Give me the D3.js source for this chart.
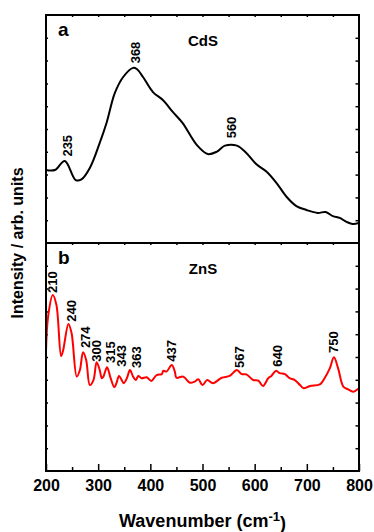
<!DOCTYPE html>
<html>
<head>
<meta charset="utf-8">
<script src="https://cdn.jsdelivr.net/npm/d3@7"></script>
<style>
  body { margin: 0; background: #fff; }
  text { font-family: "Liberation Sans", Arial, sans-serif; font-weight: bold; fill: #000; }
</style>
</head>
<body>
<script>
// CdS spectrum (panel a)
const cdsX = [200, 217, 236, 257, 268, 284, 303, 316, 332, 348, 367, 374, 386, 405, 424, 443, 462, 489, 510, 527,
    543, 566, 584, 604, 623, 642, 661, 680, 699, 721, 736, 750, 763, 776, 788, 800]
const cdsY = [3.20, 3.20, 3.60, 2.76, 2.79, 3.29, 4.39, 5.26, 6.58, 7.28, 7.68, 7.63, 7.28, 6.62, 6.27, 5.75, 5.26, 4.30, 3.90, 4.00,
    4.27, 4.27, 3.95, 3.44, 3.13, 2.63, 2.03, 1.62, 1.45, 1.32, 1.36, 1.18, 1.10, 0.93, 0.83, 0.88]

// ZnS spectrum (panel b)
const znsX = [200, 204, 213, 220, 229, 233, 243, 249, 259, 265, 271, 277, 284, 291, 297, 303, 307, 310, 317, 323,
    331, 335, 340, 345, 349, 355, 361, 367, 372, 377, 383, 393, 402, 412, 422, 425, 431, 441, 447, 450,
    463, 476, 485, 492, 500, 509, 520, 537, 552, 566, 575, 584, 597, 607, 616, 626, 632, 641, 648, 658,
    667, 677, 687, 694, 706, 725, 734, 744, 752, 760, 770, 779, 789, 800]
const znsY = [5.23, 6.77, 7.72, 7.28, 5.04, 5.31, 6.45, 6.05, 4.14, 4.43, 5.21, 4.87, 3.77, 3.99, 4.77, 4.43, 4.07, 4.14, 4.55, 4.14,
    3.67, 3.85, 4.17, 3.99, 3.85, 4.07, 4.43, 4.14, 3.99, 4.17, 4.07, 4.11, 3.95, 4.21, 4.25, 4.40, 4.36, 4.65, 4.36, 4.09,
    4.14, 3.87, 3.92, 4.02, 3.77, 3.99, 3.85, 4.09, 4.17, 4.43, 4.25, 4.24, 3.99, 3.96, 3.73, 4.07, 4.17, 4.40, 4.29, 4.25,
    4.07, 3.99, 3.77, 3.63, 3.73, 3.80, 4.07, 4.50, 4.99, 4.50, 3.70, 3.58, 3.48, 3.63]

// Peak labels: text, label x (wavenumber), label foot (intensity)
const cdsPeaks = ["235", "368", "560"]
const cdsPeakX = [240, 372, 556]
const cdsPeakY = [3.79, 7.88, 4.59]

const znsPeaks = ["210", "240", "274", "300", "315", "343", "363", "437", "567", "640", "750"]
const znsPeakX = [212, 249, 275, 297, 324, 345, 374, 441, 570, 643, 750]
const znsPeakY = [7.81, 6.55, 5.39, 4.79, 4.74, 4.57, 4.52, 4.79, 4.52, 4.57, 5.18]

const majorTicks = [200, 300, 400, 500, 600, 700, 800]
const minorTicks = [250, 350, 450, 550, 650, 750]
const edgeTicks = [250, 300, 350, 400, 450, 500, 550, 600, 650, 700, 750]
const yTicks = [1, 2, 3, 4, 5, 6, 7, 8, 9]

const size = { width: 374, height: 532 }
const frame = { left: 46, right: 359, top: 15, mid: 243, bottom: 471 }

const svg = d3.select("body").append("svg")
    .attr("width", size.width)
    .attr("height", size.height)

const x = d3.scaleLinear().domain([200, 800]).range([frame.left, frame.right])

const panels = [
    { name: "CdS", tag: "a", xs: cdsX, ys: cdsY, color: "#000", top: frame.top, bottom: frame.mid,
      peaks: cdsPeaks, px: cdsPeakX, py: cdsPeakY },
    { name: "ZnS", tag: "b", xs: znsX, ys: znsY, color: "#ff0000", top: frame.mid, bottom: frame.bottom,
      peaks: znsPeaks, px: znsPeakX, py: znsPeakY }
]

panels.forEach(function (p, k) {
    const y = d3.scaleLinear().domain([0, 10]).range([p.bottom, p.top])

    // inner ticks on left, right and top
    svg.append("g")
        .attr("transform", "translate(" + frame.left + ",0)")
        .call(d3.axisLeft(y).tickValues(yTicks).tickSize(-2).tickFormat(""))
    svg.append("g")
        .attr("transform", "translate(" + frame.right + ",0)")
        .call(d3.axisRight(y).tickValues(yTicks).tickSize(-3.5).tickFormat(""))
    svg.append("g")
        .attr("transform", "translate(0," + p.top + ")")
        .call(d3.axisTop(x).tickValues(edgeTicks).tickSize(-2).tickFormat(""))

    const clipId = "clip" + k
    svg.append("clipPath").attr("id", clipId)
        .append("rect")
        .attr("x", frame.left).attr("y", p.top)
        .attr("width", frame.right - frame.left).attr("height", p.bottom - p.top)

    const line = d3.line()
        .x((d, i) => x(p.xs[i]))
        .y(d => y(d))
        .curve(d3.curveCatmullRom.alpha(0.5))

    svg.append("path")
        .datum(p.ys)
        .attr("clip-path", "url(#" + clipId + ")")
        .attr("fill", "none")
        .attr("stroke", p.color)
        .attr("stroke-width", 2)
        .attr("stroke-linejoin", "round")
        .attr("d", line)

    // peak labels, rotated
    svg.selectAll(".peak" + k)
        .data(p.peaks)
        .enter()
        .append("text")
        .attr("class", "peak" + k)
        .attr("transform", (d, i) => "translate(" + x(p.px[i]) + "," + y(p.py[i]) + ")rotate(-90)")
        .attr("dy", "0.36em")
        .style("font-size", "13px")
        .text(d => d)

    svg.append("text")
        .attr("x", 58)
        .attr("y", p.top + 21)
        .style("font-size", "19px")
        .text(p.tag)

    svg.append("text")
        .attr("x", 203)
        .attr("text-anchor", "middle")
        .attr("y", p.top + 31)
        .style("font-size", "15px")
        .text(p.name)
})

// bottom axis
svg.append("g")
    .attr("class", "xaxis")
    .attr("transform", "translate(0," + frame.bottom + ")")
    .call(d3.axisBottom(x).tickValues(majorTicks).tickSize(-7).tickPadding(9).tickFormat(d3.format("d")))
svg.append("g")
    .attr("transform", "translate(0," + frame.bottom + ")")
    .call(d3.axisBottom(x).tickValues(minorTicks).tickSize(-4).tickFormat(""))

svg.selectAll(".xaxis text")
    .style("font-size", "16px")
    .style("font-family", "'Liberation Sans', Arial, sans-serif")
    .style("font-weight", "bold")

svg.selectAll(".domain").remove()
svg.selectAll(".tick line").attr("stroke", "#000").attr("stroke-width", 1.5)

// frame and divider
svg.append("rect")
    .attr("x", frame.left).attr("y", frame.top)
    .attr("width", frame.right - frame.left).attr("height", frame.bottom - frame.top)
    .attr("fill", "none").attr("stroke", "#000").attr("stroke-width", 2)
svg.append("line")
    .attr("x1", frame.left).attr("x2", frame.right)
    .attr("y1", frame.mid).attr("y2", frame.mid)
    .attr("stroke", "#000").attr("stroke-width", 2)

// axis titles
const xTitle = svg.append("text")
    .attr("x", (frame.left + frame.right) / 2)
    .attr("y", 527)
    .attr("text-anchor", "middle")
    .style("font-size", "18px")
xTitle.append("tspan").text("Wavenumber (cm")
xTitle.append("tspan").attr("dy", "-0.45em").style("font-size", "13px").text("-1")
xTitle.append("tspan").attr("dy", "0.45em").text(")")

svg.append("text")
    .attr("transform", "translate(23," + (frame.top + frame.bottom) / 2 + ")rotate(-90)")
    .attr("text-anchor", "middle")
    .style("font-size", "16px")
    .text("Intensity / arb. units")
</script>
</body>
</html>
